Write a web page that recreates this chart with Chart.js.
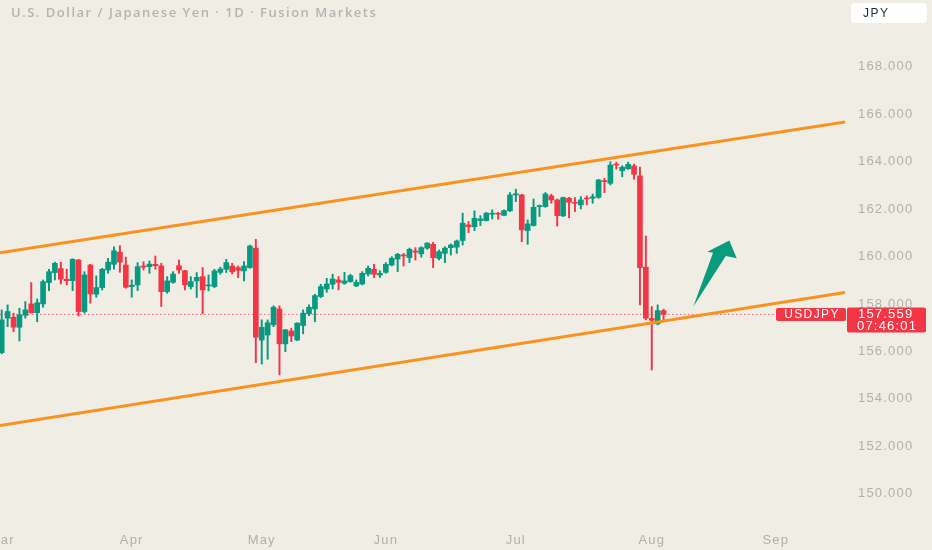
<!DOCTYPE html>
<html>
<head>
  <meta charset="UTF-8">
  <title>USDJPY 1D</title>
  <script src="https://cdn.jsdelivr.net/npm/chart.js"></script>
  <style>
    body { margin: 0; background: #f0ede5; }
    #wrap { width: 932px; height: 550px; }
  </style>
</head>
<body>
  <div id="wrap"><canvas id="chart" width="932" height="550"></canvas></div>
  <script>
    // month labels sit on the first trading day of each month (bar index)
    const monthLabels = ['Mar', 'Apr', 'May', 'Jun', 'Jul', 'Aug', 'Sep'];
    const monthStarts = [0, 22, 44, 65, 87, 110, 131];
    const priceTicks = [150, 152, 154, 156, 158, 160, 162, 164, 166, 168];

    // daily OHLC
    const opens = [155.95,157.40,157.44,157.02,157.52,158.00,157.63,158.00,158.90,159.32,
      159.49,159.04,158.98,159.85,157.68,159.64,158.41,158.69,159.43,159.67,
      160.18,159.64,158.73,158.80,159.60,159.57,159.67,159.60,158.52,158.91,
      159.61,159.40,158.73,158.97,159.15,158.76,158.73,159.33,159.46,159.60,
      159.53,159.39,159.53,160.35,156.48,156.69,157.12,157.79,156.32,156.86,
      156.48,157.09,157.58,157.79,158.31,158.63,158.83,159.01,158.87,158.94,
      158.76,158.84,159.26,159.46,159.22,159.33,159.64,159.89,160.06,159.95,
      160.23,160.11,160.35,160.51,159.92,160.13,160.37,160.39,160.67,161.33,
      161.25,161.51,161.51,161.78,161.82,161.73,161.92,162.59,162.59,161.09,
      161.30,162.10,162.10,162.55,162.38,161.71,162.45,162.27,162.17,162.45,
      162.45,162.49,163.19,163.08,163.89,163.61,163.69,163.81,163.39,159.55,
      157.39,157.16,157.72];
    const highs = [157.75,157.96,157.61,157.82,158.10,158.90,158.21,159.01,159.46,159.76,
      159.76,159.47,159.90,159.88,159.36,159.67,159.18,159.50,159.92,160.41,
      160.45,159.97,159.01,159.74,159.78,159.81,160.02,159.71,159.15,159.36,
      159.85,159.42,159.15,159.32,159.53,159.22,159.46,159.55,159.88,159.71,
      159.60,159.78,160.48,160.72,157.33,157.33,157.92,157.92,156.93,156.98,
      157.21,157.75,157.96,158.41,158.83,159.08,159.25,159.15,159.33,159.25,
      159.01,159.36,159.60,159.67,159.40,159.74,159.99,160.13,160.13,160.35,
      160.37,160.41,160.58,160.60,160.27,160.41,160.53,160.69,161.82,161.47,
      161.92,161.72,161.86,161.96,161.86,161.96,162.69,162.83,162.62,161.54,
      162.42,162.17,162.69,162.62,162.42,162.50,162.49,162.48,162.52,162.55,
      162.63,163.25,163.29,163.99,163.97,163.82,163.97,163.89,163.76,160.86,
      157.89,157.96,157.78];
    const lows = [155.90,157.04,156.83,156.44,157.40,157.61,157.25,157.86,158.56,159.01,
      158.84,158.80,158.56,157.49,157.61,158.03,158.28,158.59,159.29,159.46,
      159.33,158.66,158.28,158.56,159.43,159.29,159.46,157.89,158.45,158.87,
      159.29,158.59,158.63,158.27,157.58,158.55,158.69,159.25,159.32,159.26,
      159.11,158.97,159.50,155.53,155.47,155.67,157.04,155.01,155.99,156.41,
      156.45,156.74,157.51,157.25,158.27,158.49,158.63,158.59,158.83,158.91,
      158.73,158.80,159.18,159.11,159.11,159.29,159.60,159.36,159.60,159.74,
      159.85,159.97,160.30,159.53,159.85,159.74,160.06,160.13,160.48,161.00,
      161.09,161.30,161.49,161.58,161.57,161.71,161.89,162.31,160.62,160.51,
      161.28,161.68,162.07,162.24,161.28,161.68,161.63,161.89,162.00,162.17,
      162.24,162.45,162.69,163.01,163.68,163.36,163.67,163.25,157.96,157.33,
      155.22,157.12,157.33];
    const closes = [157.33,157.68,157.02,157.54,157.75,157.63,158.05,158.94,159.36,159.71,
      159.04,158.98,159.88,157.68,159.22,158.42,158.69,159.46,159.76,160.24,
      159.76,158.70,158.79,159.57,159.55,159.68,159.61,158.52,158.97,159.26,
      159.43,158.80,158.94,159.12,158.59,158.80,159.39,159.47,159.74,159.35,
      159.42,159.60,160.44,156.60,157.02,157.21,157.86,156.32,156.91,156.65,
      157.19,157.61,157.86,158.35,158.73,158.84,159.05,158.91,158.97,159.19,
      158.91,159.29,159.50,159.25,159.29,159.67,159.92,160.09,160.02,160.30,
      160.18,160.37,160.56,159.95,160.20,160.35,160.48,160.65,161.40,161.25,
      161.61,161.58,161.82,161.82,161.78,161.93,162.59,162.64,161.12,161.37,
      162.07,162.14,162.63,162.38,161.72,162.48,162.28,162.24,162.38,162.42,
      162.51,163.22,163.15,163.85,163.85,163.76,163.88,163.46,159.53,157.40,
      157.31,157.72,157.559];

    // hand-drawn channel (bar index, price) and the green arrow
    const channelIdx = [-0.29, 142.7];
    const upperChannel = [160.15, 165.66];
    const lowerChannel = [152.88, 158.48];
    const arrowIdx = [117.04, 120.37, 119.41, 123.13, 124.38, 122.52];
    const arrowPrice = [157.89, 160.16, 160.20, 160.67, 159.92, 160.02];

    const symbol = 'USDJPY';
    const lastPrice = 157.559;
    const countdown = '07:46:01';
    const title = 'U.S. Dollar / Japanese Yen · 1D · Fusion Markets';

    const GREEN = '#089981', RED = '#f23645', ORANGE = '#f7931e', ARROW = '#0a9a7c';
    const AXIS_TEXT = '#b0b0b0';

    const idx = closes.map((c, i) => i);
    const candleColors = idx.map(i => closes[i] >= opens[i] ? GREEN : RED);

    const overlay = {
      id: 'overlay',
      beforeDraw(chart) {
        chart.ctx.letterSpacing = '1.2px';
      },
      beforeDatasetsDraw(chart) {
        const { ctx, chartArea, scales } = chart;
        const y = scales.y.getPixelForValue(lastPrice);
        ctx.save();
        ctx.strokeStyle = 'rgba(242,54,69,0.75)';
        ctx.lineWidth = 1;
        ctx.setLineDash([1.5, 2.5]);
        ctx.beginPath();
        ctx.moveTo(chartArea.left, y);
        ctx.lineTo(chartArea.right, y);
        ctx.stroke();
        ctx.restore();
      },
      afterDatasetsDraw(chart) {
        const { ctx, scales } = chart;
        ctx.save();
        ctx.fillStyle = ARROW;
        ctx.beginPath();
        arrowIdx.forEach((v, k) => {
          const px = scales.x.getPixelForValue(v), py = scales.y.getPixelForValue(arrowPrice[k]);
          if (k === 0) ctx.moveTo(px, py); else ctx.lineTo(px, py);
        });
        ctx.closePath();
        ctx.fill();
        ctx.restore();
      },
      afterDraw(chart) {
        const { ctx, chartArea, scales } = chart;
        const y = scales.y.getPixelForValue(lastPrice);
        ctx.save();
        ctx.textBaseline = 'middle';

        // symbol tag
        ctx.fillStyle = RED;
        ctx.beginPath();
        ctx.roundRect(chartArea.right - 69, y - 6.5, 70, 13, 2);
        ctx.fill();
        ctx.fillStyle = '#ffffff';
        ctx.font = '12px "Liberation Sans"';
        ctx.letterSpacing = '1.4px';
        ctx.textAlign = 'center';
        ctx.fillText(symbol, chartArea.right - 33, y + 0.5);

        // price + countdown box
        ctx.fillStyle = RED;
        ctx.beginPath();
        ctx.roundRect(chartArea.right + 2, y - 7, 79, 25, 2);
        ctx.fill();
        ctx.fillStyle = '#ffffff';
        ctx.font = '13px "Liberation Sans"';
        ctx.letterSpacing = '1.2px';
        ctx.textAlign = 'left';
        ctx.fillText(lastPrice.toFixed(3), chartArea.right + 13, y + 0.5);
        ctx.fillText(countdown, chartArea.right + 12, y + 12.5);

        // title
        ctx.fillStyle = '#b4b4b4';
        ctx.font = '600 13px "Open Sans"';
        ctx.letterSpacing = '1.5px';
        ctx.fillText(title, 11, 13);

        // currency button
        ctx.fillStyle = '#ffffff';
        ctx.beginPath();
        ctx.roundRect(851, 3, 76, 20, 4);
        ctx.fill();
        ctx.fillStyle = '#1e2b2f';
        ctx.font = '12px "Liberation Sans"';
        ctx.letterSpacing = '1.5px';
        ctx.fillText('JPY', 863, 13.5);
        ctx.restore();
      }
    };

    new Chart(document.getElementById('chart'), {
      type: 'bar',
      data: {
        datasets: [
          {
            type: 'line',
            data: channelIdx.map((x, k) => ({ x, y: upperChannel[k] })),
            borderColor: ORANGE, borderWidth: 3, pointRadius: 0, order: 0
          },
          {
            type: 'line',
            data: channelIdx.map((x, k) => ({ x, y: lowerChannel[k] })),
            borderColor: ORANGE, borderWidth: 3, pointRadius: 0, order: 0
          },
          {
            // bodies
            data: idx.map(i => ({ x: i, y: [opens[i], closes[i]] })),
            backgroundColor: candleColors,
            barThickness: 5, minBarLength: 1, grouped: false, order: 1
          },
          {
            // wicks
            data: idx.map(i => ({ x: i, y: [lows[i], highs[i]] })),
            backgroundColor: candleColors,
            barThickness: 1.3, grouped: false, order: 2
          }
        ]
      },
      options: {
        responsive: false,
        animation: false,
        events: [],
        layout: { padding: 0 },
        plugins: { legend: { display: false }, tooltip: { enabled: false } },
        scales: {
          x: {
            type: 'linear', min: channelIdx[0], max: channelIdx[1], offset: false,
            grid: { display: false, drawTicks: false }, border: { display: false },
            afterBuildTicks: s => { s.ticks = monthStarts.map(v => ({ value: v })); },
            afterFit: s => { s.height = 25; s.paddingLeft = 0; s.paddingRight = 0; },
            ticks: {
              autoSkip: false, maxRotation: 0, padding: 8, color: AXIS_TEXT,
              font: { family: 'Liberation Sans', size: 13 },
              callback: v => monthLabels[monthStarts.indexOf(v)]
            }
          },
          y: {
            position: 'right', min: 148.69, max: 170.80,
            grid: { display: false, drawTicks: false }, border: { display: false },
            afterBuildTicks: s => { s.ticks = priceTicks.map(v => ({ value: v })); },
            afterFit: s => { s.width = 87; s.paddingTop = 0; s.paddingBottom = 0; },
            ticks: {
              padding: 13, color: AXIS_TEXT,
              font: { family: 'Liberation Sans', size: 13 },
              callback: v => v.toFixed(3)
            }
          }
        }
      },
      plugins: [overlay]
    });
  </script>
</body>
</html>
